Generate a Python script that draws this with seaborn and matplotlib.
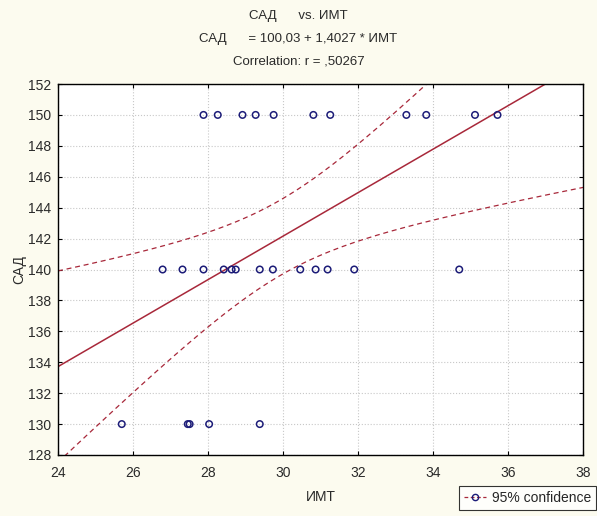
import numpy as np
import pandas as pd
import seaborn as sns
import matplotlib.pyplot as plt
from matplotlib.lines import Line2D

# ИМТ values, grouped by САД level
imt_150 = [27.88, 28.26, 28.92, 29.27, 29.75, 30.81, 31.26, 33.29, 33.82, 35.12, 35.72]
imt_140 = [26.79, 27.32, 27.88, 28.42, 28.63, 28.74, 29.38, 29.73, 30.46, 30.87, 31.19, 31.90, 34.70]
imt_130 = [25.70, 27.46, 27.51, 28.03, 29.38]

x_ticks = [24, 26, 28, 30, 32, 34, 36, 38]
y_ticks = [128, 130, 132, 134, 136, 138, 140, 142, 144, 146, 148, 150, 152]

df = pd.DataFrame({
    'ИМТ': imt_150 + imt_140 + imt_130,
    'САД': [150] * len(imt_150) + [140] * len(imt_140) + [130] * len(imt_130),
})

# linear fit and 95% confidence band of the mean
x = df['ИМТ'].to_numpy()
y = df['САД'].to_numpy()
n = len(x)
b1, b0 = np.polyfit(x, y, 1)
resid = y - (b0 + b1 * x)
s = np.sqrt(np.sum(resid ** 2) / (n - 2))
sxx = np.sum((x - x.mean()) ** 2)
t_crit = 2.052  # t(0.975, 27)
xs = np.linspace(24, 38, 200)
fit = b0 + b1 * xs
half = t_crit * s * np.sqrt(1 / n + (xs - x.mean()) ** 2 / sxx)
band = pd.DataFrame({'x': xs, 'fit': fit, 'lo': fit - half, 'hi': fit + half})

sns.set_theme(style='white')
plt.rcParams['font.family'] = ['Liberation Sans', 'DejaVu Sans']

line_col = '#a8283a'
pt_col = '#1c1c78'
txt_col = '#2a2a2a'

fig = plt.figure(figsize=(5.97, 5.16), dpi=100, facecolor='#fcfbef')
ax = fig.add_axes([58 / 597, 1 - 455 / 516, (583 - 58) / 597, (455 - 84) / 516])
ax.set_facecolor('white')

sns.lineplot(data=band, x='x', y='fit', ax=ax, color=line_col, lw=1.1)
sns.lineplot(data=band, x='x', y='lo', ax=ax, color=line_col, lw=0.9, ls=(0, (4, 3)))
sns.lineplot(data=band, x='x', y='hi', ax=ax, color=line_col, lw=0.9, ls=(0, (4, 3)))
sns.scatterplot(data=df, x='ИМТ', y='САД', ax=ax, marker='o', s=22,
                facecolor='none', edgecolor=pt_col, linewidth=1.1, zorder=5)

ax.set_xlim(24, 38)
ax.set_ylim(128, 152)
ax.set_xticks(x_ticks)
ax.set_yticks(y_ticks)
ax.grid(True, color='#c8c8c8', ls=':', lw=0.8)
for sp in ax.spines.values():
    sp.set_color('black')
    sp.set_linewidth(1.0)
ax.tick_params(direction='in', length=3, width=0.8, labelsize=10,
               top=True, right=True, bottom=True, left=True, colors='black',
               labelcolor=txt_col)
ax.tick_params(axis='x', pad=8)
ax.tick_params(axis='y', pad=5)
ax.set_xlabel('ИМТ', fontsize=10, color=txt_col, labelpad=7)
ax.set_ylabel('САД', fontsize=10, color=txt_col, labelpad=1)

fig.text(0.5, 1 - 16 / 516, 'САД      vs. ИМТ', ha='center', va='center', fontsize=9.5, color=txt_col)
fig.text(0.5, 1 - 39 / 516, 'САД      = 100,03 + 1,4027 * ИМТ', ha='center', va='center', fontsize=9.5, color=txt_col)
fig.text(0.5, 1 - 62 / 516, 'Correlation: r = ,50267', ha='center', va='center', fontsize=9.5, color=txt_col)

handle = Line2D([], [], color=line_col, ls=(0, (3, 2)), lw=0.9, marker='o',
                markerfacecolor='none', markeredgecolor=pt_col, markersize=4.5)
leg = fig.legend([handle], ['95% confidence'], loc='lower right',
                 bbox_to_anchor=(596 / 597, 6 / 516), fontsize=10, frameon=True,
                 fancybox=False, edgecolor='black', handlelength=1.6,
                 borderpad=0.35, handletextpad=0.4, borderaxespad=0)
leg.get_frame().set_linewidth(0.8)
leg.get_frame().set_facecolor('white')

fig.savefig('out.png', dpi=100, facecolor=fig.get_facecolor())
